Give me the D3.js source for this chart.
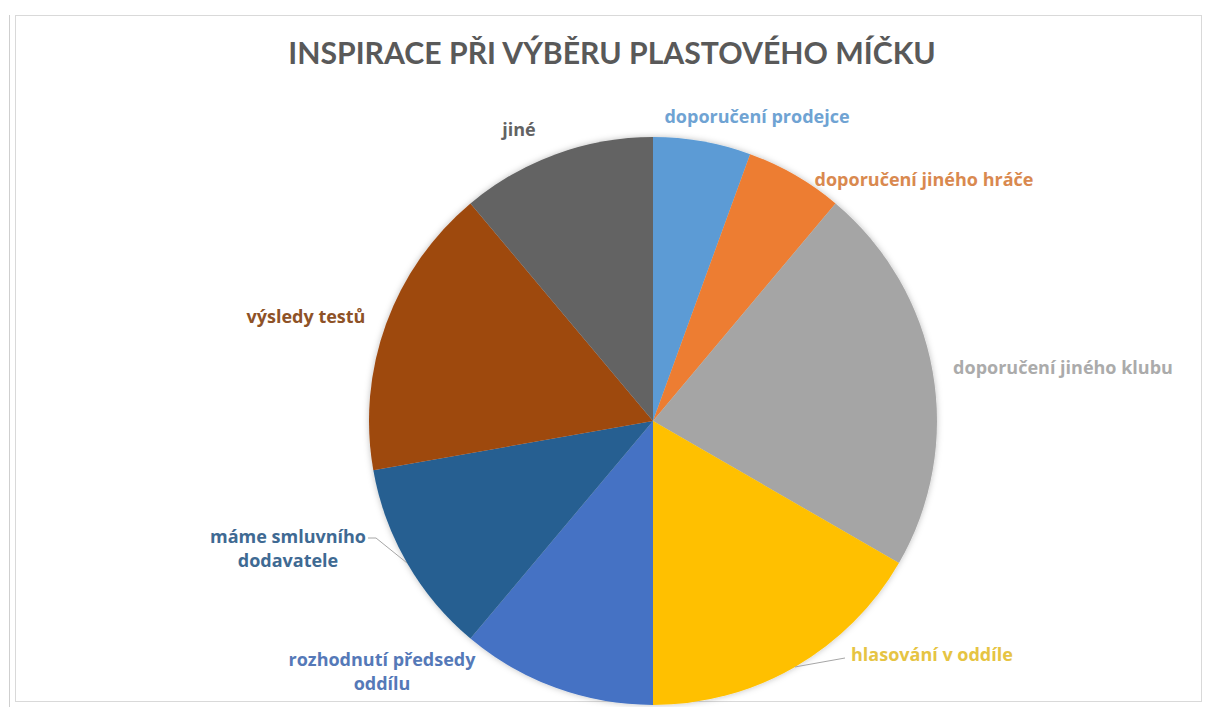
<!DOCTYPE html>
<html><head><meta charset="utf-8">
<script src="https://cdn.jsdelivr.net/npm/d3@7"></script>
<style>body{margin:0;background:#fff}svg{display:block}</style>
</head><body>
<svg id="c" width="1205" height="707"></svg>
<script>
const title = "INSPIRACE PŘI VÝBĚRU PLASTOVÉHO MÍČKU";
const categories = ["doporučení prodejce","doporučení jiného hráče","doporučení jiného klubu","hlasování v oddíle","rozhodnutí předsedy oddílu","máme smluvního dodavatele","výsledy testů","jiné"];
const values = [1,1,4,3,2,2,3,2];
const colors = ["#5b9bd5","#ed7d31","#a5a5a5","#ffc000","#4472c4","#255e91","#9e480e","#636363"];
const labelColors = ["#6fa3d3","#d9894f","#ababab","#e6c443","#5579b8","#3f6a93","#8e5227","#636363"];
const labelLines = [["doporučení prodejce"],["doporučení jiného hráče"],["doporučení jiného klubu"],["hlasování v oddíle"],["rozhodnutí předsedy","oddílu"],["máme smluvního","dodavatele"],["výsledy testů"],["jiné"]];

const svg = d3.select("#c");
// frame
svg.append("rect").attr("x",15.5).attr("y",15.5).attr("width",1186).attr("height",686).attr("fill","#fff").attr("stroke","#d9d9d9").attr("stroke-width",1);
svg.append("line").attr("x1",9.5).attr("x2",9.5).attr("y1",15).attr("y2",707).attr("stroke","#cfcfcf");

const defs = svg.append("defs");
const f = defs.append("filter").attr("id","sh").attr("x","-10%").attr("y","-10%").attr("width","120%").attr("height","120%");
f.append("feDropShadow").attr("dx",0).attr("dy",0).attr("stdDeviation",3).attr("flood-color","#000").attr("flood-opacity",0.25);

svg.append("text").attr("x",612).attr("y",64).attr("text-anchor","middle")
  .attr("font-family","Lato, 'Open Sans', sans-serif").attr("font-weight","bold").attr("font-size",30.2)
  .attr("fill","#595959").text(title);

const cx=653, cy=421, R=284;
const pie = d3.pie().sort(null).value(d=>d)(values);
const arc = d3.arc().innerRadius(0).outerRadius(R);
const g = svg.append("g").attr("transform",`translate(${cx},${cy})`);
g.append("g").attr("filter","url(#sh)").selectAll("path").data(pie).join("path")
  .attr("d",arc).attr("fill",(d,i)=>colors[i]).attr("stroke","none");

// label layout (x, y baseline of first line, anchor)
const labelPos = [[757,123,"middle"],[924,186,"middle"],[1063,374,"middle"],[851,661,"start"],[382,666,"middle"],[288,543,"middle"],[306,323,"middle"],[519,136,"middle"]];
const leader = {3:[847,658],5:[368,538]};
const mid = d=> (d.startAngle+d.endAngle)/2;
pie.forEach((d,i)=>{
  if(leader[i]){
    const a=mid(d); const ex=cx+R*Math.sin(a), ey=cy-R*Math.cos(a);
    const [lx,ly]=leader[i];
    const pts = i===3 ? [[ex,ey],[lx-2,ly]] : [[lx,ly],[lx+8,ly],[ex,ey]];
    svg.append("path").attr("d",d3.line()(pts)).attr("fill","none").attr("stroke","#a6a6a6").attr("stroke-width",1);
  }
  const [x,y,anc]=labelPos[i];
  const t=svg.append("text").attr("x",x).attr("y",y).attr("text-anchor",anc)
    .attr("font-family","'Open Sans', sans-serif").attr("font-weight","bold").attr("font-size",18)
    .attr("fill",labelColors[i]);
  labelLines[i].forEach((s,j)=>t.append("tspan").attr("x",x).attr("dy",j?24:0).text(s));
});
</script>
</body></html>
